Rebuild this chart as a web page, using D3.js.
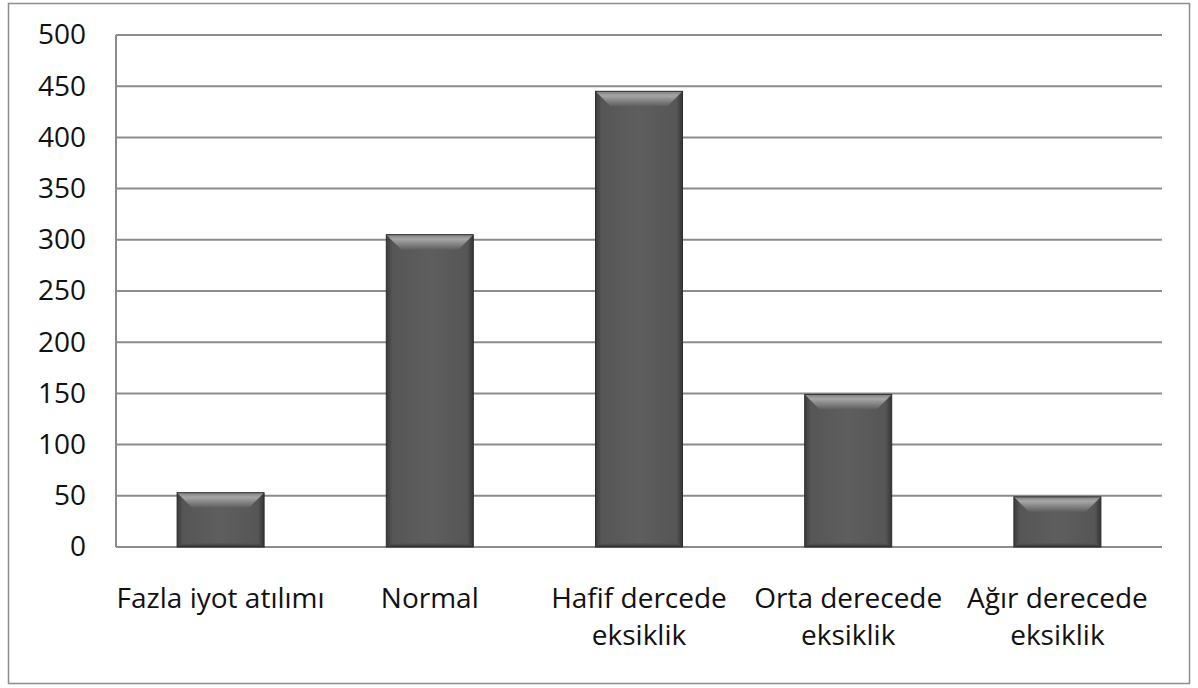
<!DOCTYPE html>
<html>
<head>
<meta charset="utf-8">
<script src="https://cdn.jsdelivr.net/npm/d3@7"></script>
<style>
  html, body { margin: 0; padding: 0; background: #fff; }
  svg { display: block; }
  text { font-family: "Open Sans", Lato, "Liberation Sans", sans-serif; fill: #111; }
</style>
</head>
<body>
<svg id="chart" width="1198" height="688"></svg>
<script>
// Iodine status groups and counts
const categories = [
  ["Fazla iyot atılımı"],
  ["Normal"],
  ["Hafif dercede", "eksiklik"],
  ["Orta derecede", "eksiklik"],
  ["Ağır derecede", "eksiklik"]
];
const values = [53, 305, 445, 149, 49];
const yTicks = [0, 50, 100, 150, 200, 250, 300, 350, 400, 450, 500];

const svg = d3.select("#chart");
const plot = { left: 116, right: 1162, top: 35, bottom: 547 };
const fontFamily = "'Open Sans', Lato, 'Liberation Sans', sans-serif";
const fontSize = "28px";

// outer frame
svg.append("rect")
  .attr("x", 8.5).attr("y", 3.5).attr("width", 1181).attr("height", 680)
  .attr("fill", "#fff").attr("stroke", "#8c8c8c").attr("stroke-width", 1.5);

const x = d3.scaleBand()
  .domain(d3.range(categories.length))
  .range([plot.left, plot.right])
  .paddingInner(0.584).paddingOuter(0.292);

const y = d3.scaleLinear().domain([0, 500]).range([plot.bottom, plot.top]);

// gradients for the bevelled bars
const defs = svg.append("defs");
const bodyGrad = defs.append("linearGradient").attr("id", "barBody")
  .attr("x1", 0).attr("x2", 1).attr("y1", 0).attr("y2", 0);
[[0, "#3a3a3a"], [0.07, "#565656"], [0.5, "#5e5e5e"], [0.93, "#565656"], [1, "#343434"]]
  .forEach(([o, c]) => bodyGrad.append("stop").attr("offset", o).attr("stop-color", c));
const topGrad = defs.append("linearGradient").attr("id", "barTop")
  .attr("x1", 0).attr("x2", 0).attr("y1", 0).attr("y2", 1);
[[0, "#808080"], [0.3, "#a6a6a6"], [1, "#5e5e5e"]]
  .forEach(([o, c]) => topGrad.append("stop").attr("offset", o).attr("stop-color", c));
const bottomGrad = defs.append("linearGradient").attr("id", "barBottom")
  .attr("x1", 0).attr("x2", 0).attr("y1", 0).attr("y2", 1);
[[0, "#5a5a5a"], [1, "#333"]]
  .forEach(([o, c]) => bottomGrad.append("stop").attr("offset", o).attr("stop-color", c));

// gridlines
svg.append("g").selectAll("line").data(yTicks).join("line")
  .attr("x1", plot.left).attr("x2", plot.right)
  .attr("y1", d => y(d)).attr("y2", d => y(d))
  .attr("stroke", "#8c8c8c").attr("stroke-width", 2);

// y axis labels
const yAxis = d3.axisLeft(y).tickValues(yTicks).tickSize(0).tickPadding(30);
const ya = svg.append("g").attr("transform", `translate(${plot.left},0)`).call(yAxis);
ya.select(".domain").remove();
ya.selectAll("text")
  .style("font-family", fontFamily)
  .style("font-size", fontSize).attr("fill", "#111");

// bars
const bars = svg.append("g").selectAll("g").data(values).join("g");
bars.each(function(v, i) {
  const g = d3.select(this);
  const x0 = x(i), bw = x.bandwidth(), y0 = y(v), h = y(0) - y(v);
  const bev = Math.min(15, h / 3);
  g.append("rect").attr("x", x0).attr("y", y0).attr("width", bw).attr("height", h)
    .attr("fill", "url(#barBody)");
  g.append("path")
    .attr("d", `M${x0},${y0}L${x0 + bw},${y0}L${x0 + bw - bev},${y0 + bev}L${x0 + bev},${y0 + bev}Z`)
    .attr("fill", "url(#barTop)");
  g.append("path")
    .attr("d", `M${x0},${y0 + h}L${x0 + bw},${y0 + h}L${x0 + bw - 4},${y0 + h - 4}L${x0 + 4},${y0 + h - 4}Z`)
    .attr("fill", "url(#barBottom)");
  g.append("rect").attr("x", x0).attr("y", y0).attr("width", bw).attr("height", h)
    .attr("fill", "none").attr("stroke", "#2e2e2e").attr("stroke-width", 1);
});

// y axis line
svg.append("line")
  .attr("x1", plot.left).attr("x2", plot.left)
  .attr("y1", plot.top).attr("y2", plot.bottom)
  .attr("stroke", "#8c8c8c").attr("stroke-width", 2);

// category labels
const labels = svg.append("g").selectAll("text").data(categories).join("text")
  .attr("text-anchor", "middle")
  .style("font-family", fontFamily)
  .style("font-size", fontSize)
  .attr("x", (d, i) => x(i) + x.bandwidth() / 2)
  .attr("y", 608);
labels.selectAll("tspan").data(d => d).join("tspan")
  .attr("x", function() { return d3.select(this.parentNode).attr("x"); })
  .attr("dy", (d, j) => j === 0 ? 0 : 37)
  .text(d => d);
</script>
</body>
</html>
